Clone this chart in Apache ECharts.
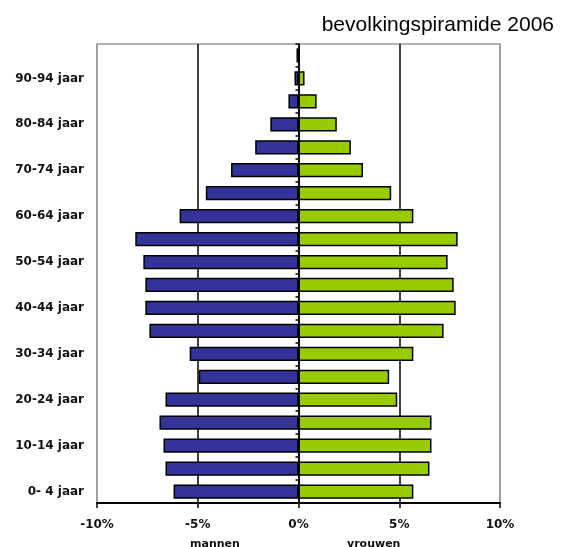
<!DOCTYPE html>
<html><head><meta charset="utf-8">
<script src="https://cdn.jsdelivr.net/npm/echarts@6/dist/echarts.min.js"></script>
<style>html,body{margin:0;padding:0;background:#fff}#c{width:563px;height:547px}</style>
</head><body><div id="c"></div>
<script>
const categories = ['0- 4 jaar','5- 9 jaar','10-14 jaar','15-19 jaar','20-24 jaar','25-29 jaar','30-34 jaar','35-39 jaar','40-44 jaar','45-49 jaar','50-54 jaar','55-59 jaar','60-64 jaar','65-69 jaar','70-74 jaar','75-79 jaar','80-84 jaar','85-89 jaar','90-94 jaar','95+ jaar'];
const mannen = [-6.2,-6.6,-6.7,-6.9,-6.6,-4.95,-5.4,-7.4,-7.6,-7.6,-7.7,-8.1,-5.9,-4.6,-3.35,-2.15,-1.4,-0.5,-0.2,-0.1];
const vrouwen = [5.7,6.5,6.6,6.6,4.9,4.5,5.7,7.2,7.8,7.7,7.4,7.9,5.7,4.6,3.2,2.6,1.9,0.9,0.3,0.05];
const xTicks = ['-10%','-5%','0%','5%','10%'];
const chart = echarts.init(document.getElementById('c'));
const lblFont = {fontFamily:'DejaVu Sans', fontWeight:'bold', fontSize:12, color:'#111'};
chart.setOption({
  animation:false,
  title:{text:'bevolkingspiramide 2006', right:4, top:10, textStyle:{fontFamily:'Liberation Sans', fontWeight:'normal', fontSize:21, color:'#000'}},
  grid:{left:97, right:63, top:44, bottom:44, show:true, borderColor:'#999', borderWidth:1.5},
  xAxis:{type:'value', min:-10, max:10, interval:5,
    axisLine:{show:true, onZero:false, lineStyle:{color:'#000', width:2}},
    axisTick:{show:true, length:5, lineStyle:{color:'#000', width:1.5}},
    axisLabel:Object.assign({margin:16, formatter:(v)=>xTicks[Math.round((v+10)/5)]}, lblFont),
    splitLine:{show:true, lineStyle:{color:['#999','#000','#000','#000','#999'], width:1.5}}},
  yAxis:[
    {type:'category', data:categories, position:'left', axisLine:{show:false, onZero:false}, axisTick:{show:false},
     axisLabel:Object.assign({interval:1, margin:13}, lblFont)},
    {type:'category', data:categories, position:'left', axisLine:{show:true, onZero:true, lineStyle:{color:'#000', width:1.5}},
     axisTick:{show:true, length:3, lineStyle:{color:'#000', width:1.5}}, axisLabel:{show:false}}
  ],
  series:[
    {name:'mannen', type:'bar', data:mannen, barWidth:'62%', barGap:'-100%', itemStyle:{color:'#333399', borderColor:'#000', borderWidth:1.5}},
    {name:'vrouwen', type:'bar', data:vrouwen, barWidth:'62%', barGap:'-100%', itemStyle:{color:'#99CC00', borderColor:'#000', borderWidth:1.5}}
  ],
  graphic:[
    {type:'text', left:190, top:539, style:{text:'mannen', font:'bold 11px "DejaVu Sans"', fill:'#111'}},
    {type:'text', left:347, top:539, style:{text:'vrouwen', font:'bold 11px "DejaVu Sans"', fill:'#111'}}
  ]
});
</script></body></html>
